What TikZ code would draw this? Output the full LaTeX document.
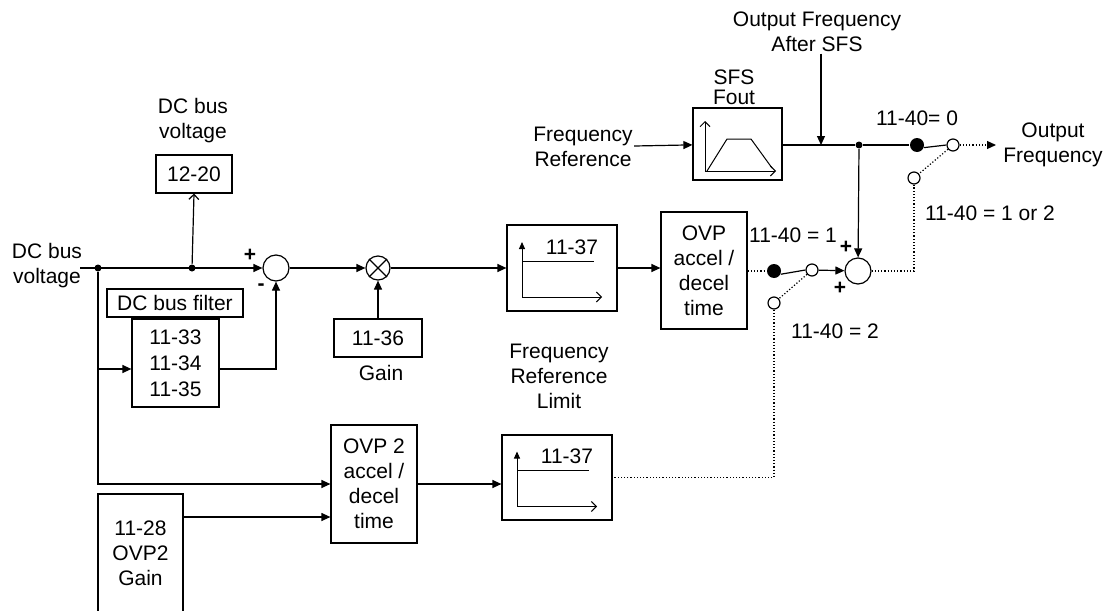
\documentclass[tikz,border=0pt]{standalone}
\usepackage{fontspec}
\setmainfont{Liberation Sans}
\usetikzlibrary{positioning, arrows.meta, calc}

\begin{document}
\begin{tikzpicture}[
    x=1pt, y=-1pt,
    font=\fontsize{21}{25}\selectfont,
    line width=1.2pt,
    blk/.style={rectangle, draw, inner sep=0pt, align=center},
    sumnode/.style={circle, draw, minimum size=26pt, inner sep=0pt},
    jdot/.style={circle, fill, minimum size=7pt, inner sep=0pt},
    swfull/.style={circle, fill, minimum size=14pt, inner sep=0pt},
    swopen/.style={circle, draw, fill=white, minimum size=12pt, inner sep=0pt},
    txt/.style={align=center, inner sep=1pt},
    sign/.style={font=\fontsize{21}{25}\selectfont\bfseries, inner sep=0pt},
    edge/.style={-{Triangle[length=9pt, width=8pt]}},
    axis/.style={-{Straight Barb[length=5pt, width=10pt]}},
    sig/.style={dotted}
]
\useasboundingbox (0,0) rectangle (1110,610);

% ================= DC BUS PATH =================
\node[txt] (dcvin) at (47,266) {DC bus\\voltage};
\coordinate (vin) at (80,268);
\node[jdot] (jn1) at (98,268) {};
\node[jdot] (jn2) at (192,268) {};
\node[txt] (dcvtop) at (193,121) {DC bus\\voltage};
\node[blk, minimum width=76pt, minimum height=38pt] (b1220) at (194,174) {12-20};

\node[blk, minimum width=136pt, minimum height=28pt] (dcfilter) at (175,303) {DC bus filter};
\node[blk, minimum width=87pt, minimum height=88pt] (filt) at (175.5,363) {11-33\\[1pt]11-34\\[1pt]11-35};

\node[sumnode] (sum1) at (276,268) {};
\node[sign] (plus1) at (250,255) {+};
\node[sign] (minus1) at (261,287) {-};
\node[circle, draw, minimum size=24pt, inner sep=0pt] (mult) at (378,268) {};
\draw (mult.45) -- (mult.225) (mult.135) -- (mult.-45);
\node[blk, minimum width=88pt, minimum height=38pt] (b1136) at (378,338) {11-36};
\node[txt] (gain) at (381,373) {Gain};

\coordinate (br) at (98,369);
\draw[edge] (vin) -- (sum1.west);
\draw[axis] (jn2) -- (b1220.south);
\draw (dcfilter) -- (filt);
\draw[edge] (br) -- (br -| filt.west);
\draw[edge] (filt.east |- br) -| (sum1.south);
\draw[edge] (sum1) -- (mult);
\draw[edge] (b1136) -- (mult);

% ================= LIMIT / OVP =================
\node[blk, minimum width=110pt, minimum height=86pt] (lim1) at (562,268) {};
\node[blk, minimum width=86pt, minimum height=117pt] (ovp1) at (704,270.5) {OVP\\accel /\\decel\\time};
\node[txt] (freqlim) at (559,376) {Frequency\\Reference\\Limit};

\node[blk, minimum width=86pt, minimum height=118pt] (ovp2) at (374,484) {OVP 2\\accel /\\decel\\time};
\node[blk, minimum width=110pt, minimum height=85pt] (lim2) at (557,477.5) {};
\node[blk, minimum width=85pt, minimum height=118pt] (b1128) at (140.5,553) {11-28\\OVP2\\Gain};
\coordinate (in2) at ($(ovp2.west)+(0,33)$);

\foreach \n in {lim1, lim2} {
    \draw[-{Triangle[length=7pt, width=6pt]}, line width=1pt] ($(\n)+(-40,29)$) -- ($(\n)+(-40,-26)$);
    \draw[axis, line width=1pt] ($(\n)+(-40,29)$) -- ($(\n)+(40,29)$);
    \draw[line width=1pt] ($(\n)+(-40,-7)$) -- ($(\n)+(32,-7)$);
    \node (\n-val) at ($(\n)+(10,-21)$) {11-37};
}

\draw[edge] (mult) -- (lim1);
\draw[edge] (lim1.east) -- (lim1.east -| ovp1.west);
\draw[edge] (jn1) |- (ovp2.west);
\draw[edge] (b1128.east |- in2) -- (in2);
\draw[edge] (ovp2.east) -- (ovp2.east -| lim2.west);

% ================= SWITCH 11-40 = 1 / 2 =================
\node[swfull] (sw1a) at (774,271) {};
\node[swopen] (sw1b) at (812,270) {};
\node[swopen] (sw1c) at (774,303) {};
\node[sumnode] (sum2) at (858,271) {};
\node[txt] (sw1lbl) at (793,235) {11-40 = 1};
\node[sign] (plus2) at (846,247) {+};
\node[sign] (plus3) at (840,288) {+};
\node[txt] (sw2lbl) at (835,331) {11-40 = 2};

\draw[sig] (ovp1.east |- sw1a) -- (sw1a);
\draw (sw1a.-25) -- (sw1b.west);
\draw[sig] (sw1b) -- (sw1c);
\draw[edge] (sw1b) -- (sum2);
\draw[sig] (sw1c) |- (lim2.east);

% ================= SFS / OUTPUT =================
\node[txt] (freqref) at (583,147) {Frequency\\Reference};
\node[blk, minimum width=89pt, minimum height=72pt] (sfs) at (737.5,144) {};
\node[txt] (sfslbl) at (734,87) {SFS\\[-5pt]Fout};
\draw[axis, line width=1pt] ($(sfs)+(-32.5,27)$) -- ($(sfs)+(-32.5,-23)$);
\draw[axis, line width=1pt] ($(sfs)+(-32.5,27)$) -- ($(sfs)+(38.5,27)$);
\draw[line width=1pt] ($(sfs)+(-30.5,27)$) -- ($(sfs)+(-10.5,-5)$) -- ($(sfs)+(13.5,-5)$) -- ($(sfs)+(34.5,24)$);

\node[txt] (aftersfs) at (817,32) {Output Frequency\\After SFS};
\coordinate (aftpt) at (821,145);
\node[jdot] (jn3) at (859,145) {};
\node[swfull] (sw0a) at (917,145) {};
\node[swopen] (sw0b) at (953,145) {};
\node[swopen] (sw0c) at (914,178) {};
\node[txt] (sw0lbl) at (917,118) {11-40= 0};
\node[txt] (sw12lbl) at (990,213) {11-40 = 1 or 2};
\node[txt] (outtxt) at (1053,145) {Output\\Frequency};
\coordinate (outpt) at (996,145);

\draw[edge] (freqref) -- (sfs);
\draw (sfs.east |- jn3) -- (jn3) -- (sw0a);
\draw[edge] (aftersfs.south -| aftpt) -- (aftpt);
\draw[edge] (jn3) -- (sum2);
\draw (sw0a.-20) -- (sw0b.west);
\draw[sig] (sw0b) -- (sw0c);
\draw[sig, edge] (sw0b) -- (outpt);
\draw[sig] (sum2) -| (sw0c);

\end{tikzpicture}
\end{document}
